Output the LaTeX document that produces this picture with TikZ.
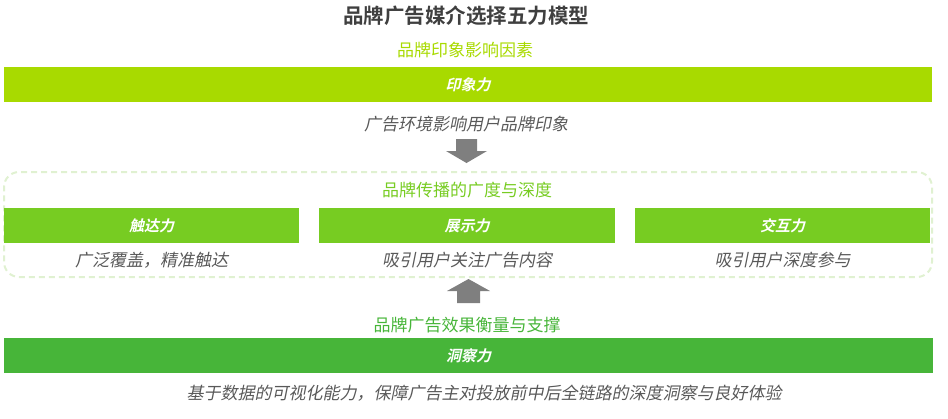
\documentclass[tikz,border=0pt]{standalone}
\usepackage{fontspec}
\setmainfont{Noto Sans CJK SC}
\newfontfamily\cjkit[FakeSlant=0.2]{Noto Sans CJK SC}
\newfontfamily\cjkb{Noto Sans CJK SC Bold}
\newfontfamily\cjkbi[FakeSlant=0.22]{Noto Sans CJK SC Bold}
\definecolor{lime}{HTML}{A8DA00}
\definecolor{midgreen}{HTML}{77CC22}
\definecolor{deepgreen}{HTML}{47B539}
\definecolor{dashgreen}{HTML}{E0F1D1}
\definecolor{txtgray}{HTML}{595959}
\definecolor{titlegray}{HTML}{3F3F3F}
\definecolor{arrowgray}{HTML}{7F7F7F}

\begin{document}
\begin{tikzpicture}[x=1pt,y=-1pt,
	bar/.style={rectangle,minimum height=35pt,inner sep=0pt,text=white,font=\cjkbi\fontsize{15}{15}\selectfont},
	head/.style={inner sep=0pt,font=\fontsize{17}{17}\selectfont},
	desc/.style={inner sep=0pt,text=txtgray,font=\cjkit\fontsize{17}{17}\selectfont}]
	\useasboundingbox (0,0) rectangle (948,418);

	\node[inner sep=0pt,text=titlegray,font=\cjkb\fontsize{20.5}{20.5}\selectfont] (title) at (466,16) {品牌广告媒介选择五力模型};

	% top: impression
	\node[head,text=lime] (imphead) at (465,50) {品牌印象影响因素};
	\node[bar,fill=lime,minimum width=928pt] (imp) at (468,84.5) {印象力};
	\node[desc] (impdesc) at (466,124) {广告环境影响用户品牌印象};
	\fill[arrowgray] (456,139) -- (477,139) -- (477,151) -- (487,151) -- (466.5,163)
		-- (446,151) -- (456,151) -- cycle;

	% middle: reach, display, interaction
	\node[draw=dashgreen,line width=2pt,dash pattern=on 6pt off 4pt,rounded corners=15pt,
		minimum width=928pt,minimum height=105pt] (band) at (468,224.5) {};
	\node[head,text=midgreen] (midhead) at (467,190) {品牌传播的广度与深度};
	\node[bar,fill=midgreen,minimum width=295pt] (reach) at (151.5,225.5) {触达力};
	\node[bar,fill=midgreen,minimum width=296pt] (show) at (467,225.5) {展示力};
	\node[bar,fill=midgreen,minimum width=295pt] (inter) at (782.5,225.5) {交互力};
	\node[desc] (reachdesc) at (151.5,260) {广泛覆盖，精准触达};
	\node[desc] (showdesc) at (467,260) {吸引用户关注广告内容};
	\node[desc] (interdesc) at (782.5,260) {吸引用户深度参与};
	\fill[arrowgray] (457,303) -- (480,303) -- (480,291) -- (490,291) -- (468.5,279)
		-- (447,291) -- (457,291) -- cycle;

	% bottom: insight
	\node[head,text=deepgreen] (bothead) at (467,325) {品牌广告效果衡量与支撑};
	\node[bar,fill=deepgreen,minimum width=929pt] (ins) at (468.5,355.5) {洞察力};
	\node[desc] (insdesc) at (484,393) {基于数据的可视化能力，保障广告主对投放前中后全链路的深度洞察与良好体验};
\end{tikzpicture}
\end{document}
